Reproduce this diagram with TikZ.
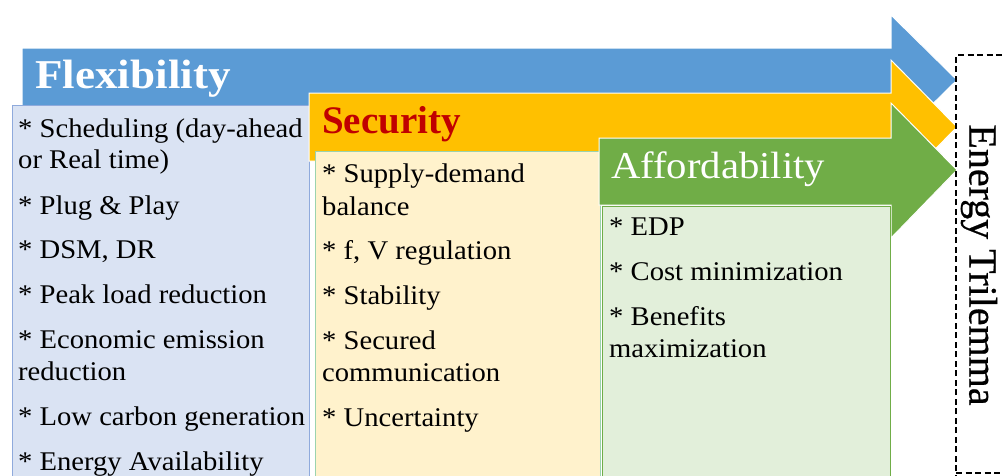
\documentclass[tikz,border=0pt]{standalone}
\usepackage{fontspec}
\setmainfont{Liberation Serif}
\definecolor{fblue}{HTML}{5B9BD5}
\definecolor{fyellow}{HTML}{FFC000}
\definecolor{fgreen}{HTML}{70AD47}
\definecolor{lblue}{HTML}{DAE3F3}
\definecolor{lcream}{HTML}{FFF2CC}
\definecolor{lgreen}{HTML}{E2EFDA}
\definecolor{dred}{HTML}{C00000}
\definecolor{bborder}{HTML}{8FAADC}
\definecolor{cborder}{HTML}{9BD3AE}
\begin{document}
\begin{tikzpicture}[x=1pt,y=-1pt,
  arrowshape/.style={draw=white, line width=1pt},
  listbox/.style={line width=0.8pt},
  body/.style={font=\fontsize{27}{30}\selectfont\addfontfeature{FakeStretch=1.06}, anchor=base west, inner sep=0pt, text=black},
  title/.style={anchor=base west, inner sep=0pt}]
\useasboundingbox (0,0) rectangle (1002,475);
\clip (0,0) rectangle (1002,475);
% Flexibility
\path[arrowshape, fill=fblue] (22,48) -- (891,48) -- (891,15) -- (957,80) -- (891,145) -- (891,112) -- (22,112) -- cycle;
\path[listbox, fill=lblue, draw=bborder] (12,105) rectangle (309,490);
% Security
\path[arrowshape, fill=fyellow] (309,93) -- (891,93) -- (891,60) -- (957,127) -- (891,194) -- (891,161) -- (309,161) -- cycle;
\path[listbox, fill=lcream, draw=cborder] (315,151) rectangle (600,490);
% Affordability
\path[arrowshape, fill=fgreen] (599,138) -- (891,138) -- (891,103) -- (957,170) -- (891,238) -- (891,205) -- (599,205) -- cycle;
\path[listbox, fill=lgreen, draw=fgreen] (602,206) rectangle (890,490);
% Energy Trilemma box
\draw[line width=2.2pt, dash pattern=on 6pt off 3.5pt] (956,490) -- (956,55) -- (1010,55);
\draw[line width=2.2pt, dash pattern=on 6pt off 3.5pt] (956,473) -- (1010,473);
\node[font=\fontsize{40}{44}\selectfont\addfontfeature{FakeBold=0.6}, rotate=-90, inner sep=0pt] (et) at (979,265) {Energy Trilemma};
% titles
\node[title, text=white, font=\fontsize{41}{44}\selectfont\bfseries\addfontfeature{FakeStretch=1.1}] (tf) at (35,88) {Flexibility};
\node[title, text=dred, font=\fontsize{39}{44}\selectfont\bfseries] (ts) at (322,133) {Security};
\node[title, text=white, font=\fontsize{38}{44}\selectfont\addfontfeature{FakeStretch=1.07}] (ta) at (611,178) {Affordability};
% Flexibility list
\node[body] (f1) at (18,137) {* Scheduling (day-ahead};
\node[body] (f1b) at (18,168) {or Real time)};
\node[body] (f2) at (18,214) {* Plug \& Play};
\node[body] (f3) at (18,258) {* DSM, DR};
\node[body] (f4) at (18,303) {* Peak load reduction};
\node[body] (f5) at (18,348) {* Economic emission};
\node[body] (f5b) at (18,380) {reduction};
\node[body] (f6) at (18,425) {* Low carbon generation};
\node[body] (f7) at (18,470) {* Energy Availability};
% Security list
\node[body] (s1) at (322,182) {* Supply-demand};
\node[body] (s1b) at (322,215) {balance};
\node[body] (s2) at (322,259) {* f, V regulation};
\node[body] (s3) at (322,304) {* Stability};
\node[body] (s4) at (322,349) {* Secured};
\node[body] (s4b) at (322,381) {communication};
\node[body] (s5) at (322,426) {* Uncertainty};
% Affordability list
\node[body] (a1) at (609,235) {* EDP};
\node[body] (a2) at (609,280) {* Cost minimization};
\node[body] (a3) at (609,325) {* Benefits};
\node[body] (a3b) at (609,357) {maximization};
\end{tikzpicture}
\end{document}
